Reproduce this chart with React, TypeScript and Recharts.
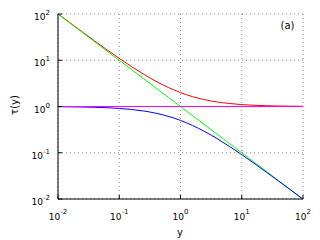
import React from 'react';
import { LineChart, Line, XAxis, YAxis, CartesianGrid } from 'recharts';

const xs = [0.01, 0.0158, 0.0251, 0.0398, 0.0631, 0.1, 0.158, 0.251, 0.398, 0.631, 1, 1.58, 2.51, 3.98, 6.31, 10, 15.8, 25.1, 39.8, 63.1, 100];
const redVals = [101, 64.3, 40.8, 26.1, 16.8, 11, 7.33, 4.98, 3.51, 2.58, 2, 1.63, 1.40, 1.25, 1.16, 1.1, 1.063, 1.04, 1.025, 1.016, 1.01];
const greenVals = [100, 63.1, 39.8, 25.1, 15.8, 10, 6.31, 3.98, 2.51, 1.58, 1, 0.631, 0.398, 0.251, 0.158, 0.1, 0.0631, 0.0398, 0.0251, 0.0158, 0.01];
const blueVals = [0.99, 0.984, 0.976, 0.962, 0.941, 0.909, 0.863, 0.799, 0.715, 0.613, 0.5, 0.388, 0.285, 0.201, 0.137, 0.0909, 0.0596, 0.0383, 0.0245, 0.0156, 0.0099];
const magentaX = [0.01, 100];
const magentaVals = [1, 1];
const xTicks = [0.01, 0.1, 1, 10, 100];
const yTicks = [0.01, 0.1, 1, 10, 100];
const tickExps: Record<string, string> = { '0.01': '-2', '0.1': '-1', '1': '0', '10': '1', '100': '2' };

const toData = (x: number[], y: number[]) => x.map((v, i) => ({ x: v, y: y[i] }));
const redData = toData(xs, redVals);
const greenData = toData(xs, greenVals);
const blueData = toData(xs, blueVals);
const magentaData = toData(magentaX, magentaVals);

const FONT = 'DejaVu Sans';

const XTick = (props: any) => {
  const { x, payload } = props;
  const exp = tickExps[String(payload.value)];
  return (
    <text x={x} y={219.5} textAnchor="middle" fontFamily={FONT} fontSize={9} fill="#000">
      10<tspan fontSize={7} dy={-6}>{exp}</tspan>
    </text>
  );
};

const YTick = (props: any) => {
  const { y, payload } = props;
  const exp = tickExps[String(payload.value)];
  return (
    <text x={50} y={y + 6} textAnchor="end" fontFamily={FONT} fontSize={9} fill="#000">
      10<tspan fontSize={7} dy={-5}>{exp}</tspan>
    </text>
  );
};

export default function App() {
  return (
    <div style={{ position: 'fixed', left: 0, top: 0, width: 320, height: 240, background: '#fff' }}>
      <LineChart width={320} height={240} margin={{ top: 14, right: 17, bottom: 0, left: 0 }}>
        <CartesianGrid stroke="#888" strokeDasharray="1 3" />
        <XAxis dataKey="x" type="number" scale="log" domain={[0.01, 100]} ticks={xTicks} allowDataOverflow
          height={41} tickSize={-4} tickMargin={8} tick={<XTick />} stroke="#000" tickLine={{ stroke: '#000' }} interval={0} />
        <XAxis xAxisId="top" orientation="top" dataKey="x" type="number" scale="log" domain={[0.01, 100]} ticks={xTicks} allowDataOverflow
          height={0} tickSize={-4} tick={false} stroke="#000" tickLine={{ stroke: '#000' }} interval={0} />
        <YAxis type="number" scale="log" domain={[0.01, 100]} ticks={yTicks} allowDataOverflow
          width={58} tickSize={-4} tickMargin={12} tick={<YTick />} stroke="#000" tickLine={{ stroke: '#000' }} interval={0} />
        <YAxis yAxisId="right" orientation="right" type="number" scale="log" domain={[0.01, 100]} ticks={yTicks} allowDataOverflow
          width={0} tickSize={-4} tick={false} stroke="#000" tickLine={{ stroke: '#000' }} interval={0} />
        <Line data={redData} dataKey="y" type="monotone" stroke="#ff0000" strokeWidth={1} dot={false} isAnimationActive={false} />
        <Line data={greenData} dataKey="y" type="monotone" stroke="#00ff00" strokeWidth={1} dot={false} isAnimationActive={false} />
        <Line data={blueData} dataKey="y" type="monotone" stroke="#0000ff" strokeWidth={1} dot={false} isAnimationActive={false} />
        <Line data={magentaData} dataKey="y" type="linear" stroke="#ff00ff" strokeWidth={1} dot={false} isAnimationActive={false} />
        <text x={14} y={105} transform="rotate(-90 14 105)" textAnchor="middle" dominantBaseline="central" fontFamily={FONT} fontSize={10} fill="#000">τ(y)</text>
        <text x={180} y={236} textAnchor="middle" fontFamily={FONT} fontSize={10} fill="#000">y</text>
        <text x={287.5} y={28.5} textAnchor="middle" fontFamily={FONT} fontSize={10} fill="#000">(a)</text>
      </LineChart>
    </div>
  );
}
